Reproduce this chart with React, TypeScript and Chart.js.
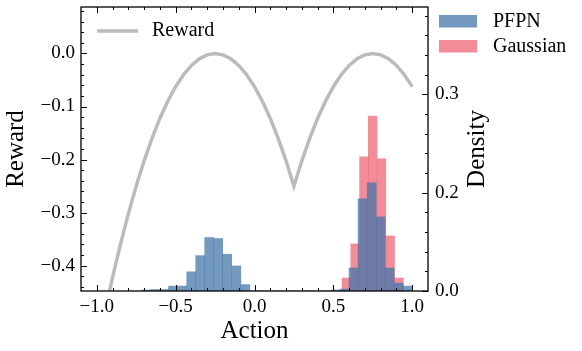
import React, { useEffect, useRef } from 'react';
import { Chart, registerables } from 'chart.js';

Chart.register(...registerables);

// ---- Data ----
const rewardX = [
  -1.0, -0.95, -0.9, -0.85, -0.8, -0.75, -0.7, -0.65, -0.6, -0.55, -0.5,
  -0.45, -0.4, -0.35, -0.3, -0.25, -0.2, -0.15, -0.1, -0.05, 0.0,
  0.05, 0.1, 0.15, 0.2, 0.25, 0.3, 0.35, 0.4, 0.45, 0.5,
  0.55, 0.6, 0.65, 0.7, 0.75, 0.8, 0.85, 0.9, 0.95, 1.0,
];
const rewardY = [
  -0.5625, -0.49, -0.4225, -0.36, -0.3025, -0.25, -0.2025, -0.16, -0.1225, -0.09, -0.0625,
  -0.04, -0.0225, -0.01, -0.0025, 0.0, -0.0025, -0.01, -0.0225, -0.04, -0.0625,
  -0.09, -0.1225, -0.16, -0.2025, -0.25, -0.2025, -0.16, -0.1225, -0.09, -0.0625,
  -0.04, -0.0225, -0.01, -0.0025, 0.0, -0.0025, -0.01, -0.0225, -0.04, -0.0625,
];

const pfpnBinCenters = [
  -0.687, -0.630, -0.573, -0.516, -0.459, -0.401, -0.344, -0.287, -0.230, -0.173,
  -0.115, -0.058, -0.001, 0.056, 0.113, 0.171, 0.228, 0.285, 0.342, 0.399,
  0.457, 0.514, 0.571, 0.628, 0.685, 0.743, 0.800, 0.857, 0.914, 0.971,
];
const pfpnDensity = [
  0.001, 0.0015, 0.0015, 0.005, 0.005, 0.0195, 0.036, 0.0544, 0.0534, 0.0374,
  0.0255, 0.0065, 0.0, 0.0, 0.0, 0.0, 0.0, 0.0, 0.0, 0.0,
  0.0, 0.001, 0.002, 0.0234, 0.0937, 0.11, 0.0754, 0.0234, 0.008, 0.005,
];

const gaussianBinCenters = [0.583, 0.638, 0.694, 0.749, 0.805, 0.860, 0.916];
const gaussianDensity = [0.0132, 0.0479, 0.1365, 0.178, 0.1344, 0.056, 0.0132];

const xMajorTicks = [-1.0, -0.5, 0.0, 0.5, 1.0];
const rewardMajorTicks = [-0.4, -0.3, -0.2, -0.1, 0.0];
const densityMajorTicks = [0.0, 0.1, 0.2];
const densityTickLabels = ['0.0', '0.2', '0.3'];

const seriesLabels = ['Reward', 'PFPN', 'Gaussian'];

// ---- Styles ----
const FONT = "'Liberation Serif', 'Times New Roman', serif";
const REWARD_COLOR = '#bbbbbb';
const PFPN_COLOR = 'rgba(68, 119, 170, 0.75)';
const GAUSS_COLOR = 'rgba(238, 102, 119, 0.75)';
const TICK_SIZE = 19;

const fmt = (v: number) => (v < -1e-9 ? '\u2212' : '') + Math.abs(v).toFixed(1);

const noPad = (s: any) => {
  s.paddingTop = 0;
  s.paddingBottom = 0;
  s.paddingLeft = 0;
  s.paddingRight = 0;
};

const decorPlugin = {
  id: 'decor',
  afterDatasetsDraw(chart: any) {
    const { ctx, chartArea: a, scales } = chart;
    const x = scales.x;
    const y = scales.y;
    const y2 = scales.y2;
    ctx.save();
    ctx.strokeStyle = '#000';
    ctx.lineWidth = 1;
    const minorLen = 3;
    const majorLen = 6;
    const line = (x1: number, y1: number, x2: number, y2_: number) => {
      ctx.beginPath();
      ctx.moveTo(x1, y1);
      ctx.lineTo(x2, y2_);
      ctx.stroke();
    };
    // x ticks (bottom and top), minor every 0.1
    for (let i = -10; i <= 10; i++) {
      const v = i / 10;
      const len = i % 5 === 0 ? majorLen : minorLen;
      const px = Math.round(x.getPixelForValue(v)) + 0.5;
      line(px, a.bottom, px, a.bottom - len);
      line(px, a.top, px, a.top + len);
    }
    // left reward ticks, minor every 0.02
    for (let i = -22; i <= 4; i++) {
      const v = i * 0.02;
      const len = i % 5 === 0 ? majorLen : minorLen;
      const py = Math.round(y.getPixelForValue(v)) + 0.5;
      line(a.left, py, a.left + len, py);
    }
    // right density ticks, minor every 0.02
    for (let i = 0; i <= 14; i++) {
      const v = i * 0.02;
      const len = i % 5 === 0 ? majorLen : minorLen;
      const py = Math.round(y2.getPixelForValue(v)) + 0.5;
      line(a.right, py, a.right - len, py);
    }
    // frame
    ctx.lineWidth = 1.3;
    ctx.strokeRect(a.left, a.top, a.right - a.left, a.bottom - a.top);

    // inner legend (Reward)
    ctx.strokeStyle = REWARD_COLOR;
    ctx.lineWidth = 3.5;
    line(a.left + 16, a.top + 24, a.left + 57, a.top + 24);
    ctx.fillStyle = '#000';
    ctx.font = `20px ${FONT}`;
    ctx.textBaseline = 'middle';
    ctx.textAlign = 'left';
    ctx.fillText(seriesLabels[0], a.left + 71, a.top + 24);

    // outer legend (histograms)
    const bx = a.right + 11;
    ctx.fillStyle = PFPN_COLOR;
    ctx.fillRect(bx, a.top + 8, 38, 12.5);
    ctx.fillStyle = GAUSS_COLOR;
    ctx.fillRect(bx, a.top + 33, 38, 12.5);
    ctx.fillStyle = '#000';
    ctx.fillText(seriesLabels[1], bx + 54, a.top + 15);
    ctx.fillText(seriesLabels[2], bx + 54, a.top + 40);

    // right axis title
    ctx.font = `25px ${FONT}`;
    ctx.textAlign = 'center';
    ctx.translate(a.right + 49, (a.top + a.bottom) / 2);
    ctx.rotate(-Math.PI / 2);
    ctx.fillText('Density', 0, 0);
    ctx.restore();
  },
};

export default function App() {
  const ref = useRef<HTMLCanvasElement>(null);
  useEffect(() => {
    const canvas = ref.current;
    if (!canvas) return;
    Chart.defaults.font.family = FONT;
    Chart.defaults.color = '#000';
    const hiddenX = {
      type: 'linear' as const,
      display: false,
      min: -1.1,
      max: 1.1,
      offset: false,
      afterBuildTicks: (s: any) => {
        s.ticks = [{ value: 0 }];
      },
    };
    const chart = new Chart(canvas, {
      type: 'line',
      data: {
        datasets: [
          {
            type: 'line',
            label: seriesLabels[0],
            data: rewardX.map((v, i) => ({ x: v, y: rewardY[i] })),
            borderColor: REWARD_COLOR,
            borderWidth: 3.5,
            pointRadius: 0,
            tension: 0,
            xAxisID: 'x',
            yAxisID: 'y',
          },
          {
            type: 'bar',
            label: seriesLabels[1],
            data: pfpnBinCenters.map((v, i) => ({ x: v, y: pfpnDensity[i] })),
            backgroundColor: PFPN_COLOR,
            borderWidth: 0,
            barPercentage: 1,
            categoryPercentage: 1,
            grouped: false,
            xAxisID: 'xb',
            yAxisID: 'y2',
          },
          {
            type: 'bar',
            label: seriesLabels[2],
            data: gaussianBinCenters.map((v, i) => ({ x: v, y: gaussianDensity[i] })),
            backgroundColor: GAUSS_COLOR,
            borderWidth: 0,
            barPercentage: 1,
            categoryPercentage: 1,
            grouped: false,
            xAxisID: 'xr',
            yAxisID: 'y2',
          },
        ] as any,
      },
      options: {
        responsive: false,
        animation: false,
        devicePixelRatio: 1,
        layout: { padding: { top: 7, left: 0, right: 0, bottom: 0 } },
        plugins: { legend: { display: false }, tooltip: { enabled: false } },
        scales: {
          x: {
            type: 'linear',
            position: 'bottom',
            min: -1.1,
            max: 1.1,
            offset: false,
            grid: { display: false, drawTicks: false },
            border: { display: false },
            ticks: {
              padding: 5,
              font: { size: TICK_SIZE },
              color: '#000',
              maxRotation: 0,
              autoSkip: false,
              callback: (v: any) => fmt(Number(v)),
            },
            afterBuildTicks: (s: any) => {
              s.ticks = xMajorTicks.map((v) => ({ value: v }));
            },
            afterFit: (s: any) => {
              s.height = 60;
              noPad(s);
            },
            title: {
              display: true,
              text: 'Action',
              font: { size: 25 },
              color: '#000',
              padding: { top: 0, bottom: 5 },
            },
          },
          xb: hiddenX,
          xr: hiddenX,
          y: {
            type: 'linear',
            position: 'left',
            min: -0.448,
            max: 0.0877,
            grid: { display: false, drawTicks: false },
            border: { display: false },
            ticks: {
              padding: 6,
              font: { size: TICK_SIZE },
              color: '#000',
              autoSkip: false,
              callback: (v: any) => fmt(Number(v)),
            },
            afterBuildTicks: (s: any) => {
              s.ticks = rewardMajorTicks.map((v) => ({ value: v }));
            },
            afterFit: (s: any) => {
              s.width = 81;
              noPad(s);
            },
            title: {
              display: true,
              text: 'Reward',
              font: { size: 25 },
              color: '#000',
              padding: { top: 1, bottom: 0 },
            },
          },
          y2: {
            type: 'linear',
            position: 'right',
            min: 0,
            max: 0.289,
            grid: { display: false, drawTicks: false },
            border: { display: false },
            ticks: {
              padding: 7,
              font: { size: TICK_SIZE },
              color: '#000',
              autoSkip: false,
              callback: (_v: any, i: number) => densityTickLabels[i],
            },
            afterBuildTicks: (s: any) => {
              s.ticks = densityMajorTicks.map((v) => ({ value: v }));
            },
            afterFit: (s: any) => {
              s.width = 154;
              noPad(s);
            },
          },
        },
      } as any,
      plugins: [decorPlugin],
    });
    return () => chart.destroy();
  }, []);
  return (
    <div style={{ position: 'absolute', left: 0, top: 0, width: 582, height: 351 }}>
      <canvas ref={ref} width={582} height={351} style={{ display: 'block', width: 582, height: 351 }} />
    </div>
  );
}
